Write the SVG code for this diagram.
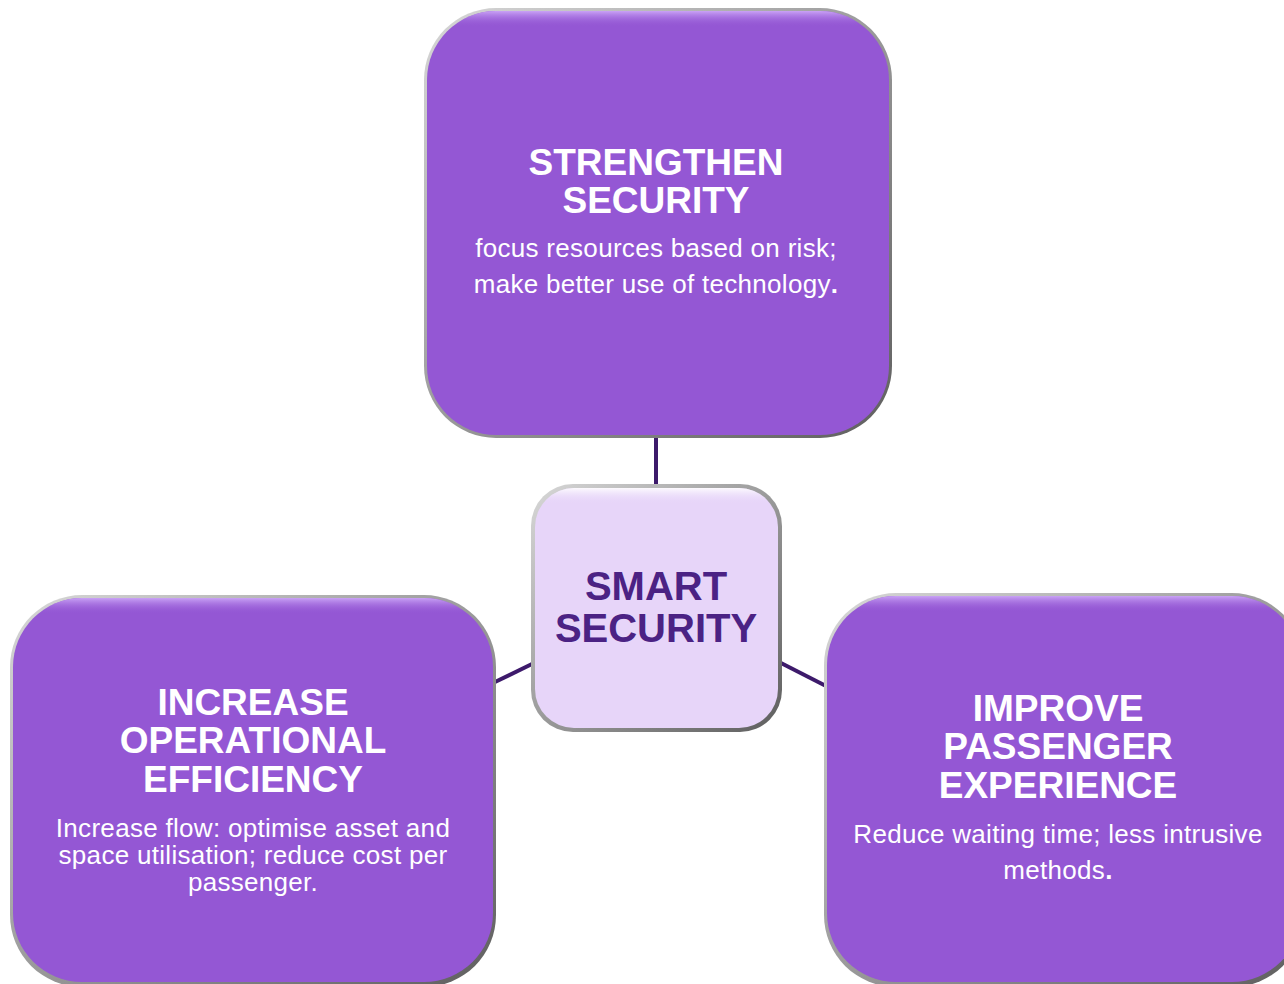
<svg xmlns="http://www.w3.org/2000/svg" width="1284" height="984" viewBox="0 0 1284 984">
<defs>
<linearGradient id="rim" x1="0" y1="0" x2="1" y2="1">
<stop offset="0" stop-color="#d8d8d8"/>
<stop offset="0.5" stop-color="#9a9a9a"/>
<stop offset="1" stop-color="#5e5e5e"/>
</linearGradient>
<linearGradient id="topHi" x1="0" y1="0" x2="0" y2="1">
<stop offset="0" stop-color="#c9a2f5" stop-opacity="1"/>
<stop offset="1" stop-color="#9457d4" stop-opacity="0"/>
</linearGradient>
<linearGradient id="topHiC" x1="0" y1="0" x2="0" y2="1">
<stop offset="0" stop-color="#ffffff" stop-opacity="0.9"/>
<stop offset="1" stop-color="#e6d4f8" stop-opacity="0"/>
</linearGradient>
<clipPath id="clipTop"><rect x="427" y="11" width="462" height="424" rx="69"/></clipPath>
<clipPath id="clipLeft"><rect x="13" y="598" width="480" height="384" rx="69"/></clipPath>
<clipPath id="clipRight"><rect x="827" y="596" width="474" height="386" rx="69"/></clipPath>
<clipPath id="clipCenter"><rect x="535" y="488" width="243" height="240" rx="39"/></clipPath>
</defs>
<style>
.rim{fill:url(#rim);}
.face{fill:#9457d4;}
.hi{fill:url(#topHi);}
.cface{fill:#e7d5f9;}
.chi{fill:url(#topHiC);}
.title{font-family:"Liberation Sans",Arial,sans-serif;font-weight:bold;font-size:37px;fill:#ffffff;text-anchor:middle;}
.body{font-family:"Liberation Sans",Arial,sans-serif;font-size:26px;letter-spacing:0.3px;fill:#ffffff;text-anchor:middle;}
.dot{font-weight:bold;}
.ctitle{font-family:"Liberation Sans",Arial,sans-serif;font-weight:bold;font-size:40px;fill:#4b2284;text-anchor:middle;}
.conn{stroke:#3d1a6b;stroke-width:4;fill:none;}
</style>
<rect width="1284" height="984" fill="#ffffff"/>
<g id="connectors">
<line class="conn" x1="656" y1="436" x2="656" y2="486"/>
<line class="conn" x1="495" y1="682" x2="534" y2="663"/>
<line class="conn" x1="779" y1="662" x2="826" y2="686"/>
</g>
<g id="node-top">
<rect class="rim" x="424" y="8" width="468" height="430" rx="72"/>
<rect class="face" x="427" y="11" width="462" height="424" rx="69"/>
<rect class="hi" x="427" y="11" width="462" height="16" clip-path="url(#clipTop)"/>
<text class="title" x="656" y="175">STRENGTHEN</text>
<text class="title" x="656" y="213">SECURITY</text>
<text class="body" x="656" y="257">focus resources based on risk;</text>
<text class="body" x="656" y="293">make better use of technology<tspan class="dot">.</tspan></text>
</g>
<g id="node-left">
<rect class="rim" x="10" y="595" width="486" height="392" rx="72"/>
<rect class="face" x="13" y="598" width="480" height="384" rx="69"/>
<rect class="hi" x="13" y="598" width="480" height="16" clip-path="url(#clipLeft)"/>
<text class="title" x="253" y="715">INCREASE</text>
<text class="title" x="253" y="753">OPERATIONAL</text>
<text class="title" x="253" y="792">EFFICIENCY</text>
<text class="body" x="253" y="837">Increase flow: optimise asset and</text>
<text class="body" x="253" y="864">space utilisation; reduce cost per</text>
<text class="body" x="253" y="891">passenger.</text>
</g>
<g id="node-right">
<rect class="rim" x="824" y="593" width="480" height="394" rx="72"/>
<rect class="face" x="827" y="596" width="474" height="386" rx="69"/>
<rect class="hi" x="827" y="596" width="474" height="16" clip-path="url(#clipRight)"/>
<text class="title" x="1058" y="721">IMPROVE</text>
<text class="title" x="1058" y="759">PASSENGER</text>
<text class="title" x="1058" y="798">EXPERIENCE</text>
<text class="body" x="1058" y="843">Reduce waiting time; less intrusive</text>
<text class="body" x="1058" y="879">methods<tspan class="dot">.</tspan></text>
</g>
<g id="node-center">
<rect class="rim" x="531" y="484" width="251" height="248" rx="42"/>
<rect class="cface" x="535" y="488" width="243" height="240" rx="39"/>
<rect class="chi" x="535" y="488" width="243" height="16" clip-path="url(#clipCenter)"/>
<text class="ctitle" x="656" y="600">SMART</text>
<text class="ctitle" x="656" y="642">SECURITY</text>
</g>
</svg>
